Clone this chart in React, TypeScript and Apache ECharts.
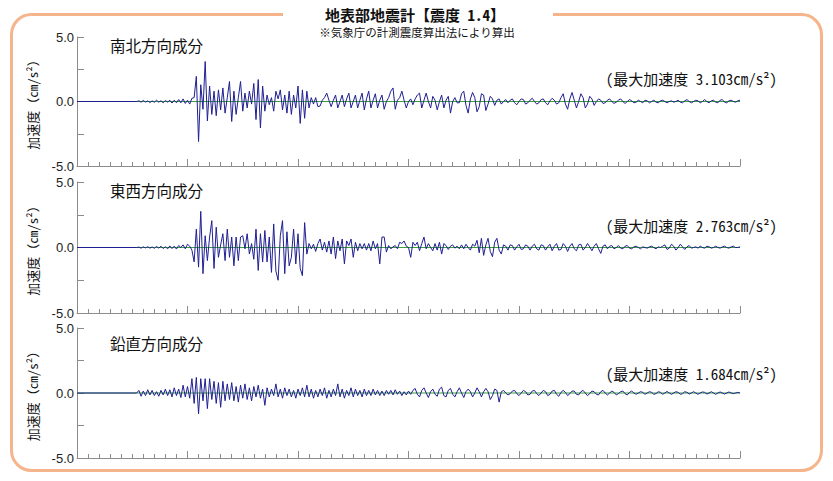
import React, { useEffect, useRef } from 'react';
import * as echarts from 'echarts';

// ---- texts ----
const TITLE = '地表部地震計【震度 1.4】';
const SUBTITLE = '※気象庁の計測震度算出法により算出';
const COMPONENT_NAMES = ['南北方向成分', '東西方向成分', '鉛直方向成分'];
const PEAK_ACCELERATIONS = ['3.103', '2.763', '1.684'];
const Y_AXIS_NAME = '加速度（cm/s²）';
const Y_LABELED_TICKS = [-5, 0, 5];

// ---- time base (seconds) ----
const X_MIN = 0;
const X_MAX = 60;
const RECORD_START = 5.4;
const SAMPLE_STEP = 0.2;

// ---- acceleration values (cm/s²), one per sample step from RECORD_START ----
const NS_VALUES = [
  0.0,
  0.05, -0.05, 0.08, -0.05, 0.05, -0.08, 0.05, -0.06, 0.1, -0.05,
  0.06, -0.1, 0.08, -0.05, 0.1, -0.12, 0.1, -0.1, 0.15, -0.1,
  0.2, -0.15, 0.1, -0.2, 0.25,
  0.3, 1.95, -3.1, 1.3, -0.6, 3.1, -1.5, 1.2, -1.0, 0.8,
  -1.1, 0.9, -0.65, 1.05, -0.9, 0.3, 1.55, -1.55, 0.8, -1.0,
  0.3, 1.55, -0.75, 0.65, -0.5, 0.8, -0.2, 1.4, -1.4, 1.7,
  -2.05, 1.2, -0.75, 0.5, -0.25, 0.3, -0.75, 0.8, 0.2, 0.9,
  -0.65, 0.5, -0.9, 0.8, -1.0, 0.5, -0.5, 1.2, -1.7, 0.9,
  -1.3, 0.8, -0.5, 0.3, -0.2, 0.3, -0.4,
  -0.35, 0.1, 0.3, 0.65, 0.1, -0.4, 0.1, 0.5,
  -0.5, 0.0, 0.5, -0.4, 0.2, 0.65, -0.5, 0.0, 0.5, -0.5,
  0.1, 0.65, -0.65, 0.2, 0.8, -0.5, 0.1, 0.6, -0.5, 0.1,
  0.5, -0.6, 0.0, 0.3, 0.8, 1.05, -0.6, 0.1, 0.3, 0.8,
  0.1, -0.5, 0.0, 0.2, -0.25, 0.2, 0.5, 0.65, -0.5, 0.1,
  0.65, 0.0, -0.5, 0.4, 0.1, -0.65, 0.0, 0.5, -0.5, 0.1,
  0.4, -0.9, 0.0, 0.3, -0.1, -0.1,
  0.6, 0.8, -0.3, -0.9, 0.2, 0.7, 0.3, -0.8, -0.4, 0.6, 0.5, -0.7, -0.2,
  0.4, 0.2, -0.3, 0.1, 0.2, -0.2, 0.0, 0.15, -0.1,
  0.1, 0.2, -0.1, -0.25, 0.0, 0.2, 0.15, -0.2, -0.1, 0.1, 0.25, 0.0, -0.2, -0.1, 0.15, 0.2, -0.1, -0.25, 0.05, 0.25, 0.1, -0.2, -0.1,
  0.3, 0.6, -0.2, -0.6, 0.2, 0.7, 0.1, -0.5, 0.0, 0.6, 0.3, -0.5, -0.2, 0.4, 0.2, -0.3,
  0.0, 0.2, 0.1, -0.15, -0.1, 0.1, 0.2, 0.0, -0.15, -0.05, 0.1, 0.2, 0.0, -0.15, 0.0, 0.15, 0.05, -0.1, -0.05, 0.1, 0.0,
  -0.1, 0.1, 0.05, -0.1, 0.0, 0.1, -0.05, -0.1, 0.05, 0.1,
  0.0, -0.1, 0.0, 0.05, -0.05, 0.0, 0.1, -0.05, -0.1, 0.05,
  0.15, 0.0, -0.1, 0.0, 0.1, 0.05, -0.1, 0.0, 0.15, 0.0,
  -0.1, 0.05, 0.1, -0.05, -0.1, 0.1, 0.15, -0.05, -0.1, 0.05,
  0.1, 0.0, -0.05, 0.05, 0.1,
];

const EW_VALUES = [
  0.0,
  0.03, -0.05, 0.05, -0.03, 0.06, -0.05, 0.04, -0.06, 0.08, -0.05,
  0.1, -0.08, 0.06, -0.1, 0.12, -0.08, 0.1, -0.12, 0.15, 0.0,
  0.2, -0.1, 0.25, 0.1, -0.2,
  -1.1, 1.4, -1.5, 2.76, -2.0, 0.9, -1.0, 0.8, 2.05, -1.6,
  1.55, -0.75, 0.2, 1.05, -1.0, 1.4, -0.75, 0.8, -1.4, 0.8,
  -1.0, 0.8, 0.9, -0.1, 1.05, -0.5, 0.3, -0.9, 1.4, -1.75,
  1.05, -1.1, 1.3, -1.1, 0.8, -1.9, 1.8, -1.8, -2.5, 0.9,
  2.05, -2.0, 1.2, -1.4, -0.75, 1.4, -1.25, 1.05, -1.6, -2.15,
  1.9, -0.5, 0.3, -0.1, 0.25, -0.3, 0.3, 0.65, -0.2, 0.4,
  -0.35, 0.5, -0.5, 0.8, -0.85, 0.5, -0.25, 0.65, -1.25, 0.5,
  0.15, 0.65, -0.75, 0.4, -0.25, 0.3, -0.1, 0.3, -0.2, 0.3,
  -0.25, 0.5, -0.1, 0.3, -1.25, 0.8, 0.8, -0.35, 0.15, -0.1,
  0.05, 0.15, -0.1, 0.4, 0.3, 0.5, 0.1, 0.0, -0.75, 0.4,
  0.15, 0.4, -0.25, 0.3, 0.8, -0.1, 0.3, 0.0, -0.25, 0.3,
  -0.2, 0.4, -0.5, 0.3, 0.15, -0.15, 0.1, 0.2, -0.05, 0.1,
  -0.1,
  0.2, -0.1, 0.25, 0.0, -0.2, 0.25, 0.1,
  0.55, -0.4, 0.7, -0.6, 0.2, 0.7, -0.3, -0.7, 0.4, 0.7, -0.2, -0.5, 0.2,
  0.1, -0.2, 0.2, 0.15, -0.2, 0.05, 0.25, -0.15, -0.1, 0.2, 0.1, -0.2, 0.1, 0.25, -0.1, -0.2, 0.2, 0.15, -0.2, 0.05, 0.25,
  -0.25, 0.1, 0.3, -0.2, -0.15, 0.3, 0.1, -0.3, 0.1, 0.3, -0.1, -0.25, 0.2, 0.25, -0.2, 0.0, 0.3, 0.05, -0.25, 0.1, 0.3, -0.1, -0.45, 0.1, 0.2, -0.1,
  0.1, 0.15, -0.1, 0.0, 0.15, -0.05, -0.1, 0.1, 0.15, -0.05, -0.1, 0.05, 0.1, 0.0, -0.1, 0.05, 0.0, -0.05, 0.05, 0.1, 0.0, -0.1, 0.05, 0.0, 0.1,
  0.2, -0.15, -0.05, 0.25, 0.1, -0.2, 0.0, 0.25, 0.05, -0.15, 0.05, 0.15, -0.05,
  0.0, 0.05, -0.05, 0.1, 0.0, -0.05, 0.1, 0.05, -0.05, 0.0, 0.1, 0.0, -0.05, 0.05, 0.1, 0.0, -0.05, 0.05, 0.1, 0.0, 0.0, 0.05,
];

const UD_VALUES = [
  0.0,
  0.2, -0.25, 0.15, -0.2, 0.25, -0.15, 0.2, -0.2, 0.1, -0.25,
  0.2, -0.15, 0.3, -0.2, 0.25, -0.3, 0.4, -0.2, 0.3, -0.35,
  0.6, -0.3, 0.5, -0.4, 1.1, -0.8, 1.2, -1.6, 1.1, -0.6,
  1.1, -1.2, 1.1, -0.5, 0.9, -0.8, 0.8, -1.1, 0.9, -0.6,
  0.7, -0.5, 0.8, -0.6, 0.5, -0.7, 0.6, -0.4, 0.7, -0.5,
  0.4, -0.6, 0.5, -0.3, 0.6, -0.4, 0.3, -0.95, 0.4, -0.3,
  0.3, -0.2, 0.7, -0.3, 0.3, -0.4, 0.4, -0.2, 0.3, -0.3,
  0.2, -0.4, 0.3, -0.2, 0.4, -0.3, 0.6, -0.3, 0.3, -0.4,
  0.2, -0.3, 0.3, -0.2, 0.4, -0.4, 0.2, -0.3, 0.3, -0.2,
  0.7, -0.3, 0.3, -0.4, 0.2, -0.2, 0.4, -0.3, 0.3, -0.2,
  0.2, -0.3, 0.3, -0.2, 0.2, -0.2, 0.3, -0.15, 0.2, -0.2,
  0.15, -0.2, 0.2, -0.1, 0.2, -0.15, 0.25, -0.1, 0.15, -0.2,
  0.1, -0.15, 0.15, -0.1,
  0.2, 0.35, -0.1, -0.3, 0.2, 0.4, 0.0, -0.35, 0.1, 0.3,
  -0.1, -0.25, 0.3, 0.45, -0.2, -0.3, 0.2, 0.35, -0.1, -0.3,
  0.1, 0.4, 0.0, -0.35, 0.1, 0.3, 0.1, -0.3, 0.0, 0.4,
  0.1, -0.3, 0.1, 0.35, 0.1, -0.5, -0.2, 0.3, 0.2, -0.7, 0.1,
  0.2, 0.0, -0.15, -0.05, 0.15, 0.2, -0.05, -0.2, 0.0, 0.2,
  0.1, -0.15, -0.1, 0.15, 0.2, -0.05, -0.2, 0.0, 0.2, 0.1,
  -0.2, -0.1, 0.15, 0.2, -0.1, -0.25, 0.05, 0.2, 0.05, -0.2,
  -0.05, 0.15, 0.15, -0.1, -0.15, 0.1, 0.2, 0.0, -0.2, -0.05,
  0.15, 0.1, -0.1, -0.15, 0.1, 0.2, 0.0, -0.15, 0.0, 0.15,
  0.05, -0.15, -0.05, 0.1, 0.15, -0.05, -0.15, 0.05, 0.15, 0.0,
  -0.1, 0.0, 0.1, 0.05, -0.1, 0.0, 0.1, 0.05, -0.1, -0.05,
  0.1, 0.05, -0.1, 0.0, 0.12, 0.0, -0.1, 0.0, 0.1, 0.05,
  -0.1, -0.05, 0.1, 0.05, -0.08, 0.0, 0.1, 0.0, -0.1, 0.0,
  0.08, 0.05, -0.08, 0.0, 0.1, 0.0, -0.1, 0.0, 0.08, 0.0,
  -0.08, 0.0, 0.08, 0.0, -0.05, 0.0, 0.05, 0.0,
];

const SERIES_VALUES = [NS_VALUES, EW_VALUES, UD_VALUES];

// ---- layout ----
const GRID_LEFT = 77;
const GRID_WIDTH = 663;
const GRID_TOPS = [37, 182, 328];
const GRID_HEIGHTS = [129, 131, 130];
const NAME_Y = [44.5, 190, 343];
const PEAK_Y = [78, 225.5, 373];

const CJK = "'Noto Sans Mono CJK JP', 'Noto Sans CJK JP', sans-serif";
const AXIS_COLOR = '#8c8c8c';
const WAVE_COLOR = '#1f1f92';
const ZERO_COLOR = '#3c9f3c';
const FRAME_COLOR = '#f5b48c';

function buildOption() {
  const grids = GRID_TOPS.map((top, k) => ({
    left: GRID_LEFT,
    width: GRID_WIDTH,
    top,
    height: GRID_HEIGHTS[k],
  }));
  const xAxes = GRID_TOPS.map((_, k) => ({
    gridIndex: k,
    type: 'value',
    min: X_MIN,
    max: X_MAX,
    interval: 10,
    axisLine: { show: true, onZero: false, lineStyle: { color: AXIS_COLOR, width: 1 } },
    axisTick: { show: true, inside: true, length: 7, lineStyle: { color: AXIS_COLOR } },
    minorTick: { show: true, splitNumber: 10, length: 4, lineStyle: { color: AXIS_COLOR } },
    axisLabel: { show: false },
    splitLine: { show: false },
    minorSplitLine: { show: false },
  }));
  const yAxes = GRID_TOPS.map((_, k) => ({
    gridIndex: k,
    type: 'value',
    min: -5,
    max: 5,
    interval: 2.5,
    axisLine: { show: true, onZero: false, lineStyle: { color: AXIS_COLOR, width: 1 } },
    axisTick: { show: true, inside: true, length: 7, lineStyle: { color: AXIS_COLOR } },
    axisLabel: {
      show: true,
      margin: 3,
      color: '#222',
      fontSize: 13,
      fontFamily: "'Liberation Sans', Arial, sans-serif",
      formatter: (v: number) => (Y_LABELED_TICKS.includes(v) ? v.toFixed(1) : ''),
    },
    splitLine: { show: false },
  }));

  const series: any[] = [];
  SERIES_VALUES.forEach((vals, k) => {
    series.push({
      type: 'line',
      xAxisIndex: k,
      yAxisIndex: k,
      data: [[X_MIN, 0], [X_MAX, 0]],
      symbol: 'none',
      silent: true,
      lineStyle: { color: ZERO_COLOR, width: 1 },
      z: 1,
    });
    const data: number[][] = [[X_MIN, 0]];
    vals.forEach((v, i) => {
      const t = RECORD_START + SAMPLE_STEP * i;
      if (t <= X_MAX + 1e-9) data.push([t, v]);
    });
    series.push({
      type: 'line',
      xAxisIndex: k,
      yAxisIndex: k,
      data,
      symbol: 'none',
      silent: true,
      lineStyle: { color: WAVE_COLOR, width: 1 },
      z: 2,
    });
  });

  const graphic: any[] = [
    {
      type: 'rect',
      z: -1,
      shape: { x: 11.5, y: 14.5, width: 810, height: 456, r: 20 },
      style: { fill: 'none', stroke: FRAME_COLOR, lineWidth: 3 },
    },
    {
      type: 'rect',
      z: 0,
      shape: { x: 283, y: 8, width: 270, height: 14 },
      style: { fill: '#ffffff' },
    },
    {
      type: 'text',
      z: 5,
      x: 415,
      y: 14,
      style: {
        text: TITLE,
        fontSize: 15,
        lineHeight: 16,
        fontWeight: 'bold',
        fontFamily: CJK,
        fill: '#111',
        align: 'center',
        verticalAlign: 'middle',
      },
    },
    {
      type: 'text',
      z: 5,
      x: 417,
      y: 32,
      style: {
        text: SUBTITLE,
        fontSize: 11.5,
        lineHeight: 12,
        fontFamily: CJK,
        fill: '#111',
        align: 'center',
        verticalAlign: 'middle',
      },
    },
  ];

  GRID_TOPS.forEach((top, k) => {
    graphic.push({
      type: 'text',
      z: 5,
      x: 32,
      y: top + GRID_HEIGHTS[k] / 2,
      rotation: Math.PI / 2,
      style: {
        text: Y_AXIS_NAME,
        fontSize: 13,
        fontFamily: CJK,
        fill: '#111',
        align: 'center',
        verticalAlign: 'middle',
      },
    });
    graphic.push({
      type: 'text',
      z: 5,
      x: 110,
      y: NAME_Y[k],
      style: {
        text: COMPONENT_NAMES[k],
        fontSize: 15.5,
        fontFamily: CJK,
        fill: '#111',
        align: 'left',
        verticalAlign: 'middle',
      },
    });
    graphic.push({
      type: 'text',
      z: 5,
      x: 777,
      y: PEAK_Y[k],
      style: {
        text: '(最大加速度 ' + PEAK_ACCELERATIONS[k] + 'cm/s²)',
        fontSize: 15,
        fontFamily: CJK,
        fill: '#111',
        align: 'right',
        verticalAlign: 'middle',
      },
    });
  });

  return {
    animation: false,
    backgroundColor: '#ffffff',
    grid: grids,
    xAxis: xAxes,
    yAxis: yAxes,
    series,
    graphic,
  };
}

export default function App() {
  const ref = useRef<HTMLDivElement>(null);
  useEffect(() => {
    if (!ref.current) return;
    const chart = echarts.init(ref.current, undefined, { renderer: 'svg' });
    chart.setOption(buildOption() as any);
    return () => chart.dispose();
  }, []);
  return (
    <div
      ref={ref}
      style={{ position: 'fixed', left: 0, top: 0, width: 833, height: 481, background: '#fff' }}
    />
  );
}
